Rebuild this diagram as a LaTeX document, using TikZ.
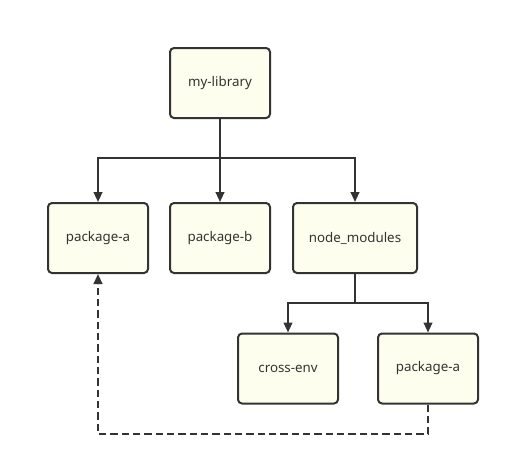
\documentclass[tikz,border=0pt]{standalone}
\usepackage{fontspec}
\setmainfont{Noto Sans}
\usetikzlibrary{arrows.meta}
\definecolor{boxfill}{HTML}{FEFEEE}
\definecolor{boxline}{HTML}{333333}
\begin{document}
\begin{tikzpicture}[x=0.75pt,y=-0.75pt,
  box/.style={draw=boxline,fill=boxfill,line width=1.5pt,rounded corners=3pt,
    minimum width=75pt,minimum height=52.5pt,inner sep=0pt,
    font=\fontsize{10}{12}\selectfont,text=black!80},
  conn/.style={draw=boxline,line width=1.5pt},
  arr/.style={conn,-{Triangle[length=7.5pt,width=6.5pt]}},
  dconn/.style={conn,dash pattern=on 5.5pt off 3pt}
]
\useasboundingbox (0,0) rectangle (510,465);
\node[box] (lib) at (220,83) {my-library};
\node[box] (pa) at (98,238) {package-a};
\node[box] (pb) at (220,238) {package-b};
\node[box,minimum width=93pt] (nm) at (355,238) {node\_modules};
\node[box] (ce) at (288,368.5) {cross-env};
\node[box] (pa2) at (428,368.5) {package-a};
\coordinate (j1) at (220,158);
\coordinate (j2) at (355,303);
\coordinate (d1) at (428,434);
\coordinate (d2) at (98,434);
\draw[conn] (lib.south) -- (j1);
\draw[arr] (j1) -| (pa.north);
\draw[arr] (j1) -- (pb.north);
\draw[arr] (j1) -| (nm.north);
\draw[conn] (nm.south) -- (j2);
\draw[arr] (j2) -| (ce.north);
\draw[arr] (j2) -| (pa2.north);
\draw[dconn,-{Triangle[length=7.5pt,width=6.5pt]}] (pa2.south) -- (d1) -- (d2) -- (pa.south);
\end{tikzpicture}
\end{document}
